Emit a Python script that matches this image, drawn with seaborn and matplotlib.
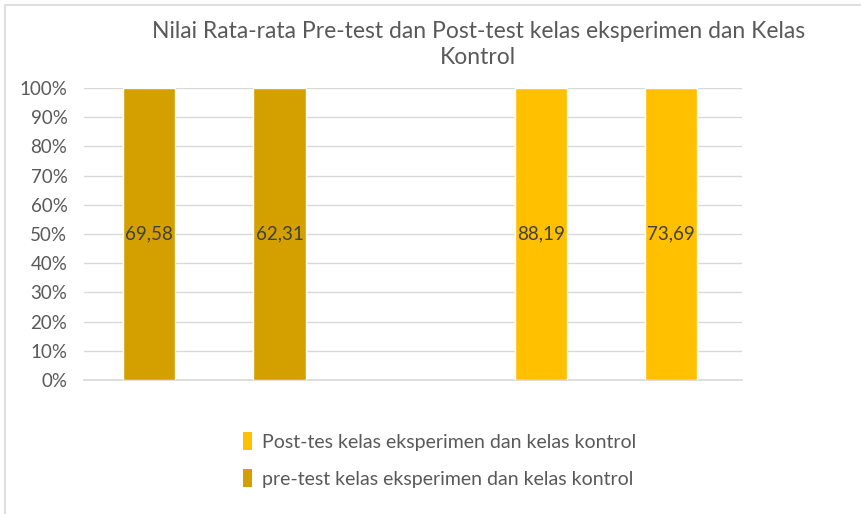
"""Diagram nilai rata-rata pre-test dan post-test (kolom 100% bertumpuk)."""

import matplotlib.pyplot as plt
import pandas as pd
import seaborn as sns
from matplotlib.patches import Patch, Rectangle
from matplotlib.ticker import PercentFormatter


TITLE = "Nilai Rata-rata Pre-test dan Post-test kelas eksperimen dan Kelas\nKontrol"
POSITIONS = [1, 2, 4, 5]
SERIES = ["pre-test kelas eksperimen dan kelas kontrol", "pre-test kelas eksperimen dan kelas kontrol",
          "Post-tes kelas eksperimen dan kelas kontrol", "Post-tes kelas eksperimen dan kelas kontrol"]
VALUES = [69.58, 62.31, 88.19, 73.69]
LEGEND_ORDER = ["Post-tes kelas eksperimen dan kelas kontrol", "pre-test kelas eksperimen dan kelas kontrol"]
COLORS = {"pre-test kelas eksperimen dan kelas kontrol": "#D4A000",
          "Post-tes kelas eksperimen dan kelas kontrol": "#FFC000"}
TEXT = "#595959"


def main() -> None:
    sns.set_theme(style="white")
    plt.rcParams["font.family"] = ["Lato", "DejaVu Sans"]

    data = pd.DataFrame({"pos": POSITIONS, "seri": SERIES, "nilai": VALUES})
    # setiap kolom hanya satu seri, jadi porsinya 100%
    data["porsi"] = data["nilai"] / data.groupby("pos")["nilai"].transform("sum") * 100

    fig = plt.figure(figsize=(8.62, 5.14), dpi=100)
    ax = fig.add_axes([0.0975, 0.2607, 0.861 - 0.0975, 0.8288 - 0.2607])
    sns.barplot(data=data, x="pos", y="porsi", hue="seri", palette=COLORS, dodge=False,
                native_scale=True, width=0.4, legend=False, ax=ax, saturation=1, zorder=3)

    for patch, value in zip(ax.patches, VALUES):
        cx = patch.get_x() + patch.get_width() / 2
        cy = patch.get_y() + patch.get_height() / 2
        ax.text(cx, cy, f"{value:.2f}".replace(".", ","), ha="center", va="center",
                fontsize=13.5, color="#404040", zorder=4)

    ax.set_xlim(0.502, 5.544)
    ax.set_ylim(0, 100)
    ax.set_yticks(range(0, 101, 10))
    ax.yaxis.set_major_formatter(PercentFormatter(decimals=0))
    ax.set_xticks([])
    ax.set(xlabel="", ylabel="")
    ax.tick_params(axis="y", labelsize=13.5, labelcolor=TEXT, length=0, pad=12)
    ax.grid(axis="y", color="#D9D9D9", linewidth=1, zorder=0)
    for side in ("top", "right", "left"):
        ax.spines[side].set_visible(False)
    ax.spines["bottom"].set_color("#D9D9D9")

    fig.text(0.555, 0.913, TITLE, ha="center", va="center", fontsize=16.5, color=TEXT, linespacing=1.3)

    handles = [Patch(facecolor=COLORS[name], edgecolor="none") for name in LEGEND_ORDER]
    fig.legend(handles, LEGEND_ORDER, loc="center", bbox_to_anchor=(0.51, 0.105), frameon=False,
               fontsize=14, labelcolor=TEXT, handlelength=0.5, handleheight=1.0, handletextpad=0.5,
               labelspacing=0.95)

    fig.patches.append(Rectangle((5 / 862, -0.1), 1.2, 1 - 5 / 514 + 0.1, transform=fig.transFigure,
                                 fill=False, edgecolor="#D9D9D9", linewidth=1.2))
    fig.savefig("out.png", dpi=100, facecolor="white")
    plt.close(fig)


if __name__ == "__main__":
    main()
